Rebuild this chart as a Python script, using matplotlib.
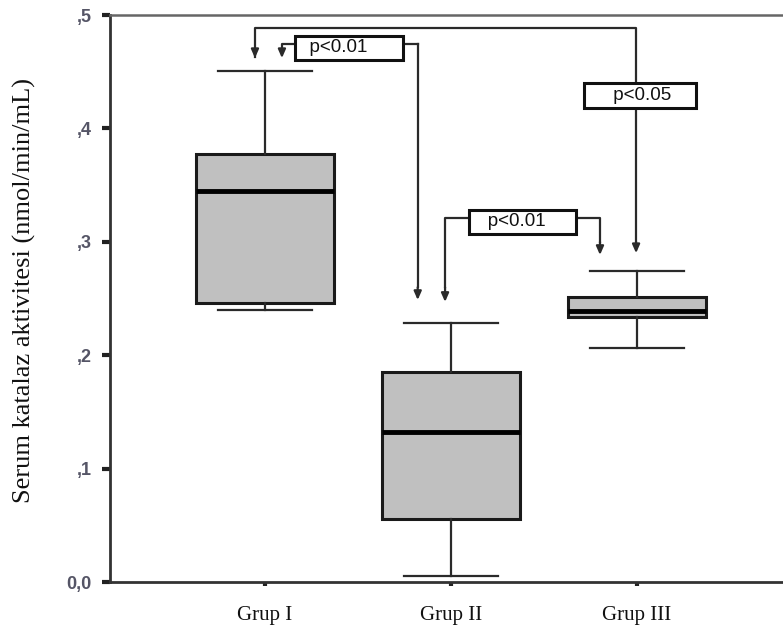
import matplotlib
matplotlib.use("Agg")
import matplotlib.pyplot as plt

# ---- data ----
groups = ["Grup I", "Grup II", "Grup III"]
whislo = [0.240, 0.005, 0.206]
q1 = [0.246, 0.056, 0.234]
med = [0.345, 0.132, 0.239]
q3 = [0.377, 0.185, 0.251]
whishi = [0.451, 0.228, 0.274]

ytick_vals = [0.0, 0.1, 0.2, 0.3, 0.4, 0.5]
ytick_labels = ["0,0", ",1", ",2", ",3", ",4", ",5"]
ylabel = "Serum katalaz aktivitesi (nmol/min/mL)"

p_labels = ["p<0.01", "p<0.01", "p<0.05"]

fig = plt.figure(figsize=(7.83, 6.28), dpi=100)
ax = fig.add_axes([0.1405, 0.0732, 0.871, 0.9029])

stats = []
for i, g in enumerate(groups):
    stats.append(dict(label=g, whislo=whislo[i], q1=q1[i], med=med[i],
                      q3=q3[i], whishi=whishi[i], fliers=[]))

ax.bxp(stats, positions=[1, 2, 3], widths=0.74, patch_artist=True,
       showfliers=False,
       boxprops=dict(facecolor="#c0c0c0", edgecolor="#1a1a1a", linewidth=2.2),
       medianprops=dict(color="#000000", linewidth=3.5, solid_capstyle="butt"),
       whiskerprops=dict(color="#2a2a2a", linewidth=1.6),
       capprops=dict(color="#2a2a2a", linewidth=1.6),
       capwidths=0.51)

ax.set_xlim(1 - 155 / 186, 3 + 155 / 186)
ax.set_ylim(0.0, 0.5)
ax.set_yticks(ytick_vals)
ax.set_yticklabels(ytick_labels, fontfamily="Liberation Sans", fontsize=13,
                   fontweight="bold", color="#555566")
ax.set_xticks([1, 2, 3])
ax.set_xticklabels(groups, fontfamily="Liberation Serif", fontsize=15,
                   color="#111111")
ax.tick_params(axis="y", direction="out", length=6, width=3, color="#222222", pad=7)
ax.tick_params(axis="x", direction="out", length=3, width=3, color="#222222", pad=14)
for s in ["left", "bottom", "top", "right"]:
    ax.spines[s].set_color("#333333")
    ax.spines[s].set_linewidth(2)
ax.spines["top"].set_color("#666666")
ax.spines["top"].set_linewidth(1.8)

ax.set_ylabel(ylabel, fontfamily="Liberation Serif", fontsize=19,
              color="#111111")
ax.yaxis.set_label_coords(-0.108, 0.515)

line_kw = dict(color="#2a2a2a", linewidth=1.6)
arrow_kw = dict(arrowstyle="-|>,head_length=0.5,head_width=0.22",
                color="#2a2a2a", linewidth=1.6, shrinkA=0, shrinkB=0)


def arrow_down(x, y0, y1):
    ax.annotate("", xy=(x, y1), xytext=(x, y0), arrowprops=arrow_kw)


def pbox(x, y, text):
    ax.text(x, y, text, ha="center", va="center", fontfamily="Liberation Sans",
            fontsize=13.5, color="#111111",
            bbox=dict(boxstyle="square,pad=0.2", facecolor="white",
                      edgecolor="#111111", linewidth=2.2))


# Grup I vs Grup III (top bracket)
ax.plot([0.946, 0.946, 2.995, 2.995], [0.463, 0.4883, 0.4883, 0.30], **line_kw)
arrow_down(0.946, 0.47, 0.462)
arrow_down(2.995, 0.30, 0.290)
pbox(3.016, 0.429, "     " + p_labels[2] + "    ")

# Grup I vs Grup II
ax.plot([1.091, 1.091, 1.82], [0.47, 0.4745, 0.4745], **line_kw)
ax.plot([1.82, 1.82], [0.4745, 0.26], **line_kw)
arrow_down(1.091, 0.47, 0.462)
arrow_down(1.821, 0.26, 0.2487)
pbox(1.452, 0.471, "  " + p_labels[0] + "      ")

# Grup II vs Grup III
ax.plot([1.968, 1.968, 2.801, 2.801], [0.26, 0.3207, 0.3207, 0.30], **line_kw)
arrow_down(1.968, 0.26, 0.247)
arrow_down(2.801, 0.30, 0.2884)
pbox(2.384, 0.3175, "   " + p_labels[1] + "     ")

fig.savefig("out.png", dpi=100)
